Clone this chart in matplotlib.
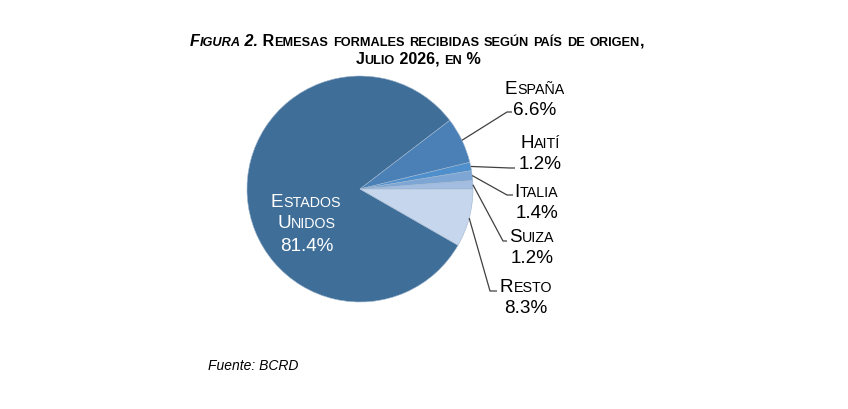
import matplotlib
matplotlib.use("Agg")
import matplotlib.pyplot as plt
from matplotlib.font_manager import FontProperties, findfont, get_font
import numpy as np

# datos
paises = ["Estados Unidos", "España", "Haití", "Italia", "Suiza", "Resto"]
porcentajes = [81.4, 6.6, 1.2, 1.4, 1.2, 8.3]
colores = ["#3f6e98", "#4a80b6", "#4f8fcb", "#7ea6d4", "#a2bde0", "#c6d6ec"]

W, H = 848, 410
DPI = 100
FAMILIA = 'Liberation Sans'
plt.rcParams['font.family'] = [FAMILIA, 'DejaVu Sans']

fig = plt.figure(figsize=(W / DPI, H / DPI), dpi=DPI)
ax = fig.add_axes([0, 0, 1, 1])
ax.set_xlim(0, W)
ax.set_ylim(0, H)
ax.set_aspect('equal')
ax.axis('off')

def py(y):
    # pixel (desde arriba) -> coordenada de datos
    return H - y

def avance(texto, size, estilo):
    """ancho tipografico (avance) del texto, en px"""
    fp = FontProperties(family=FAMILIA, size=size,
                        weight=estilo.get('fontweight', 'normal'),
                        style=estilo.get('fontstyle', 'normal'))
    f = get_font(findfont(fp))
    f.set_size(size, DPI)
    return sum(f.load_char(ord(ch)).linearHoriAdvance / 65536 for ch in texto)

def versalitas(x, y, segmentos, grande, pequeno, color='black'):
    """Texto en versalitas centrado en x: minusculas -> mayusculas pequenas."""
    piezas = []
    for txt, estilo in segmentos:
        for ch in txt:
            chica = ch.islower()
            if piezas and piezas[-1][1] == chica and piezas[-1][2] is estilo:
                piezas[-1][0] += ch
            else:
                piezas.append([ch, chica, estilo])
    pos = []
    pen = 0.0
    for t, chica, estilo in piezas:
        size = pequeno if chica else grande
        s = t.upper() if chica else t
        pos.append((pen, s, size, estilo))
        pen += avance(s, size, estilo)
    x0 = x - pen / 2
    for p, s, size, estilo in pos:
        if s.strip():
            ax.text(x0 + p, y, s, fontsize=size, va='baseline', ha='left',
                    color=color, **estilo)

# pastel
centro = (360, py(190))
radio = 113
resto_frac = porcentajes[-1] / sum(porcentajes)
wedges, _ = ax.pie(porcentajes, colors=colores, center=centro, radius=radio,
                   startangle=-360 * resto_frac, counterclock=False,
                   wedgeprops=dict(edgecolor='#9fb6cf', linewidth=0.4))
ax.set_xlim(0, W)
ax.set_ylim(0, H)

# titulo
negrita = dict(fontweight='bold')
neg_it = dict(fontweight='bold', fontstyle='italic')
versalitas(417, py(46), [("Figura 2.", neg_it),
                         (" Remesas formales recibidas según país de origen,", negrita)], 11.6, 9.2)
versalitas(418, py(64), [("Julio 2026, en %", negrita)], 11.6, 9.2)

# etiquetas externas: centro x, linea base 1, codo, fin de la guia (pixeles)
etiquetas = {
    "España": (535, 94, (507, 113), (512, 113)),
    "Haití": (540, 148, (510, 169), (515, 169)),
    "Italia": (537, 197, (507, 196), (513, 196)),
    "Suiza": (532, 242, (503, 242), (507, 242)),
    "Resto": (526, 292, (490, 292), (497, 292)),
}
normal = {}
for w, pais, val in zip(wedges, paises, porcentajes):
    if pais not in etiquetas:
        continue
    xc, yb, codo, fin = etiquetas[pais]
    versalitas(xc, py(yb), [(pais, normal)], 13.6, 10.3)
    ax.text(xc, py(yb + 21), f"{val:.1f}%", fontsize=13.6, ha='center', va='baseline')
    ang = np.deg2rad((w.theta1 + w.theta2) / 2)
    x0 = centro[0] + radio * np.cos(ang)
    y0 = centro[1] + radio * np.sin(ang)
    ax.plot([x0, codo[0], fin[0]], [y0, py(codo[1]), py(fin[1])],
            color='#404040', lw=0.9, solid_capstyle='butt')

# etiqueta interior
versalitas(306, py(207), [("Estados", normal)], 13.6, 10.3, color='white')
versalitas(307, py(228), [("Unidos", normal)], 13.6, 10.3, color='white')
ax.text(307, py(251), f"{porcentajes[0]:.1f}%", fontsize=13.6, ha='center',
        va='baseline', color='white')

ax.text(208, py(370), "Fuente: BCRD", fontsize=10, fontstyle='italic',
        ha='left', va='baseline')

fig.savefig("out.png", dpi=DPI)
